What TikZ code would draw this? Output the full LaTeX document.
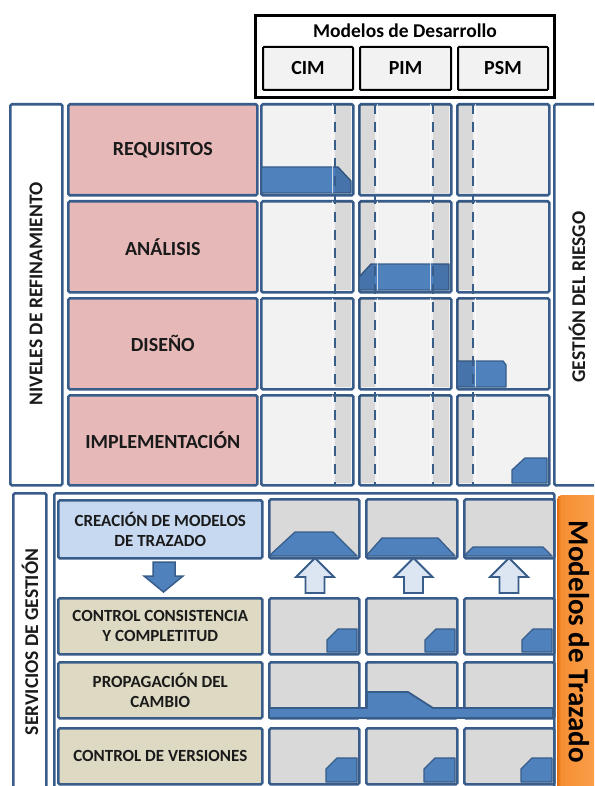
\documentclass[tikz,border=0pt]{standalone}
\usepackage{fontspec}
\setmainfont{Carlito}
\usetikzlibrary{calc}

\definecolor{edge}{HTML}{385D8A}
\definecolor{bluefill}{HTML}{4F81BD}
\definecolor{pinkfill}{HTML}{E6B9B8}
\definecolor{beige}{HTML}{DDD9C3}
\definecolor{lightblue}{HTML}{C6D9F1}
\definecolor{cellgray}{HTML}{D9D9D9}
\definecolor{cellpale}{HTML}{F2F2F2}
\definecolor{arrowpale}{HTML}{DCE6F2}
\definecolor{orangedark}{HTML}{E46C0A}
\definecolor{orangemid}{HTML}{F68E33}
\definecolor{orangelight}{HTML}{FAA24F}
\definecolor{textdark}{HTML}{1A1A1A}

\pgfdeclarehorizontalshading{orangeside}{100bp}{%
  color(0bp)=(orangedark); color(25bp)=(orangedark); color(29bp)=(orangemid);
  color(75bp)=(orangelight); color(100bp)=(orangelight)}

\tikzset{
  devframe/.style={draw=black, line width=3pt, fill=white, anchor=north west, inner sep=0pt},
  devbox/.style={draw=black, line width=2pt, fill=cellpale, rounded corners=1pt,
    anchor=north west, inner sep=0pt, font=\bfseries\fontsize{20}{22}\selectfont},
  panel/.style={draw=edge, line width=2.6pt, rounded corners=1.5pt, anchor=north west,
    inner sep=0pt, text=textdark},
  level/.style={panel, fill=pinkfill, font=\bfseries\fontsize{20}{22}\selectfont},
  upcell/.style={panel, fill=cellpale},
  service/.style={panel, fill=beige, align=center, font=\bfseries\fontsize{17}{20}\selectfont},
  lowcell/.style={panel, fill=cellgray},
  sidebar/.style={panel, fill=white},
  sidetext/.style={font=\bfseries\fontsize{19.5}{22}\selectfont, text=textdark, inner sep=0pt},
  blueshape/.style={fill=bluefill, draw=edge, line width=1.3pt, line join=round},
  band/.style={fill=black, fill opacity=0.1},
  guide/.style={draw=edge, line width=2pt, dash pattern=on 10pt off 8pt},
  hollowarrow/.style={fill=arrowpale, draw=edge, line width=1.8pt, line join=miter},
  solidarrow/.style={fill=bluefill, draw=edge, line width=1.5pt, line join=miter},
}

% box from its top-left (x1,y1) to bottom-right (x2,y2)
\newcommand\placebox[7]{%
  \node[#1, minimum width={(#5-#3)*1pt}, minimum height={(#6-#4)*1pt}] (#2) at (#3,#4) {#7};}

\begin{document}
\begin{tikzpicture}[x=1pt,y=-1pt]
\useasboundingbox (0,0) rectangle (594,786);
\clip (0,0) rectangle (594,786);
\fill[white] (0,0) rectangle (594,786);

% ---- development models header
\placebox{devframe}{desa}{254}{14}{553}{96}{}
\node[font=\bfseries\fontsize{19.5}{22}\selectfont, inner sep=0pt] (desatitle) at (405,31) {Modelos de Desarrollo};
\placebox{devbox}{cim}{262}{46}{352}{89}{CIM}
\placebox{devbox}{pim}{359}{46}{450}{89}{PIM}
\placebox{devbox}{psm}{457}{46}{547}{89}{PSM}

% ---- refinement levels
\placebox{sidebar}{niv}{9}{103}{61}{484}{}
\node[sidetext, rotate=90] (nivtext) at (36,294) {NIVELES DE REFINAMIENTO};
\placebox{level}{req}{67}{103}{256}{194}{REQUISITOS}
\placebox{level}{ana}{67}{200}{256}{291}{ANÁLISIS}
\placebox{level}{dis}{67}{297}{256}{388}{DISEÑO}
\placebox{level}{imp}{67}{394}{256}{484}{IMPLEMENTACIÓN}

% ---- risk management
\placebox{sidebar}{ries}{553}{103}{600}{484}{}
\node[sidetext, rotate=90] (riestext) at (577,297) {GESTIÓN DEL RIESGO};

% ---- upper grid cells
\foreach \r/\ya/\yb in {1/103/194, 2/200/291, 3/297/388, 4/394/484} {
  \placebox{upcell}{u\r a}{260}{\ya}{352}{\yb}{}
  \placebox{upcell}{u\r b}{358}{\ya}{450}{\yb}{}
  \placebox{upcell}{u\r c}{456}{\ya}{548}{\yb}{}
}

% coverage of each model along the levels
\draw[blueshape] (261.5,193) -- (261.5,167) -- (338,167) -- (351,181) -- (351,193) -- cycle;
\draw[blueshape] (359,290) -- (359,277) -- (371,264) -- (449,264) -- (449,290) -- cycle;
\draw[blueshape] (457,387) -- (457,361) -- (503,361) -- (506,365) -- (506,387) -- cycle;
\draw[blueshape] (512,483) -- (512,470) -- (525,458) -- (547,458) -- (547,483) -- cycle;

% shaded transition bands and their guides
\foreach \ya/\yb in {104.3/192.7, 201.3/289.7, 298.3/386.7, 395.3/482.7} {
  \fill[band] (335,\ya) rectangle (350.7,\yb);
  \fill[band] (359.3,\ya) rectangle (375,\yb);
  \fill[band] (433,\ya) rectangle (448.7,\yb);
  \fill[band] (457.3,\ya) rectangle (473,\yb);
  \draw[white, line width=1.5pt, opacity=.7] (332.5,\ya) -- (332.5,\yb);
  \draw[white, line width=1.5pt, opacity=.7] (377.5,\ya) -- (377.5,\yb);
  \draw[white, line width=1.5pt, opacity=.7] (430.5,\ya) -- (430.5,\yb);
  \draw[white, line width=1.5pt, opacity=.7] (475.5,\ya) -- (475.5,\yb);
}
\draw[guide] (335,104) -- (335,484);
\draw[guide] (375,104) -- (375,484);
\draw[guide] (433,104) -- (433,484);
\draw[guide] (473,104) -- (473,484);

% ---- management services
\placebox{sidebar}{serv}{12}{492}{45}{800}{}
\node[sidetext, rotate=90] (servtext) at (30,642) {SERVICIOS DE GESTIÓN};
\placebox{sidebar}{servframe}{53}{492}{553}{800}{}

\placebox{service, fill=lightblue}{crea}{57}{499}{261}{557}{CREACIÓN DE MODELOS\\DE TRAZADO}
\placebox{service}{cons}{57}{597}{261}{653}{CONTROL CONSISTENCIA\\Y COMPLETITUD}
\placebox{service}{prop}{57}{661}{261}{717}{PROPAGACIÓN DEL\\CAMBIO}
\placebox{service}{vers}{57}{727}{261}{783}{CONTROL DE VERSIONES}

% ---- lower grid cells
\foreach \r/\ya/\yb in {A/498/557, B/597/653, C/661/717, D/727/783} {
  \placebox{lowcell}{l\r a}{268}{\ya}{358}{\yb}{}
  \placebox{lowcell}{l\r b}{365}{\ya}{456}{\yb}{}
  \placebox{lowcell}{l\r c}{463}{\ya}{553}{\yb}{}
}

% trace model creation
\draw[blueshape] (269,556) -- (295,532) -- (333,532) -- (357,556) -- cycle;
\draw[blueshape] (366,556) -- (382,538) -- (438,538) -- (455,556) -- cycle;
\draw[blueshape] (464,556) -- (473,547) -- (543,547) -- (552,556) -- cycle;

% consistency control and versions
\foreach \xr in {357,455,552} {
  \draw[blueshape] ({\xr-30},652) -- ({\xr-30},640) -- ({\xr-19},629) -- (\xr,629) -- (\xr,652) -- cycle;
  \draw[blueshape] ({\xr-31},782) -- ({\xr-31},769) -- ({\xr-20},758) -- (\xr,758) -- (\xr,782) -- cycle;
}

% change propagation
\draw[blueshape, line width=1.8pt] (269,718) -- (269,708) -- (367,708) -- (367,692) -- (408,692)
  -- (433,708) -- (553,708) -- (553,718) -- cycle;

% arrows
\draw[solidarrow] (153,562) -- (175,562) -- (175,576) -- (183,576) -- (163.5,592)
  -- (144,576) -- (153,576) -- cycle;
\foreach \cx in {315,413.5,509} {
  \draw[hollowarrow] ({\cx-9.5},593) -- ({\cx-9.5},577) -- ({\cx-19},577) -- (\cx,558)
    -- ({\cx+19},577) -- ({\cx+9.5},577) -- ({\cx+9.5},593) -- cycle;
}

% ---- trace models tab
\node[shade, shading=orangeside, rounded corners=4pt, anchor=north west, inner sep=0pt,
  minimum width=45pt, minimum height=300pt] (traz) at (557,495) {};
\node[rotate=-90, font=\bfseries\fontsize{29}{32}\selectfont, inner sep=0pt] (traztext) at (579,642) {Modelos de Trazado};
\end{tikzpicture}
\end{document}
